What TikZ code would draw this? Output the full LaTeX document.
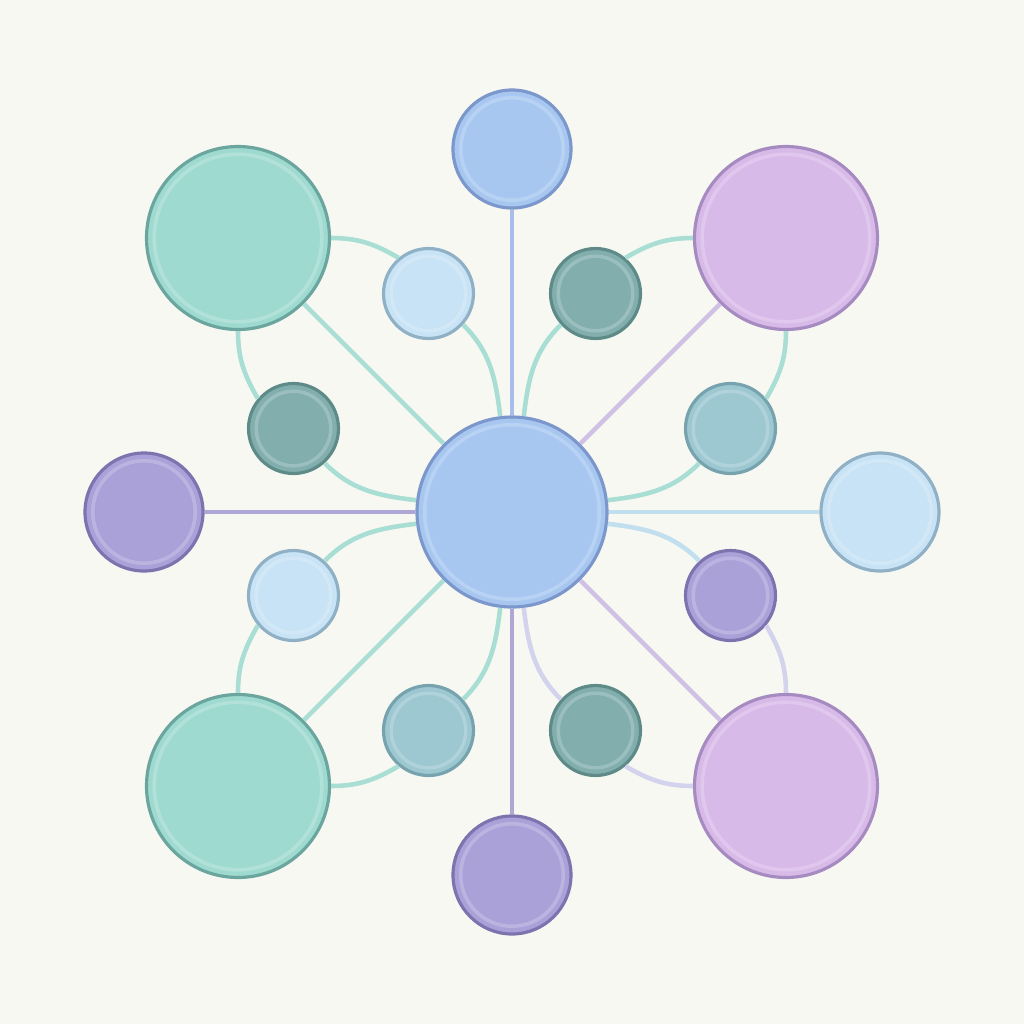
\documentclass[tikz,border=0pt]{standalone}
\usepackage{tikz}
\usetikzlibrary{positioning}

\definecolor{paper}{HTML}{F8F8F3}
\definecolor{blueF}{HTML}{A7C7F0}
\definecolor{blueD}{HTML}{7B97CB}
\definecolor{purpF}{HTML}{ABA1D9}
\definecolor{purpD}{HTML}{7E73AE}
\definecolor{skyF}{HTML}{C7E3F5}
\definecolor{skyD}{HTML}{8FB0C5}
\definecolor{tealF}{HTML}{9FDAD1}
\definecolor{tealD}{HTML}{6AA59E}
\definecolor{lilaF}{HTML}{D8BAE9}
\definecolor{lilaD}{HTML}{A68BC1}
\definecolor{deepF}{HTML}{82AEAE}
\definecolor{deepD}{HTML}{5E8B88}
\definecolor{greyF}{HTML}{9DC7D1}
\definecolor{greyD}{HTML}{77A3AE}
\definecolor{tealL}{HTML}{A8DED3}
\definecolor{lilaL}{HTML}{CFC0E5}
\definecolor{blueL}{HTML}{A9BDEA}
\definecolor{purpL}{HTML}{B0A6D6}
\definecolor{skyL}{HTML}{C2DFF0}
\definecolor{lavL}{HTML}{D4D3EE}

\tikzset{
    bubble/.style n args = {2}{circle, inner sep = 0pt, minimum size = #1cm,
        fill = #2F, draw = #2D, line width = 0.9pt,
        path picture = {\draw[white, opacity = 0.2, line width = 1pt]
            (path picture bounding box.center) circle[radius = #1cm/2-2.2pt];}},
    link/.style = {line width = 1.3pt, draw = #1}
}

\begin{document}
\begin{tikzpicture}
    \fill[paper] (-5.12,-5.12) rectangle (5.12,5.12);
    \useasboundingbox (-5.12,-5.12) rectangle (5.12,5.12);

    \foreach \name/\pos/\size/\col in {
        c/{0,0}/1.9/blue,
        top/{0,3.63}/1.18/blue, bot/{0,-3.63}/1.18/purp,
        lft/{-3.68,0}/1.18/purp, rgt/{3.68,0}/1.18/sky,
        tl/{-2.74,2.74}/1.83/teal, tr/{2.74,2.74}/1.83/lila,
        bl/{-2.74,-2.74}/1.83/teal, br/{2.74,-2.74}/1.83/lila,
        s1/{-0.835,2.185}/0.9/sky, s2/{0.835,2.185}/0.9/deep,
        s3/{-2.185,0.835}/0.9/deep, s4/{2.185,0.835}/0.9/grey,
        s5/{-2.185,-0.835}/0.9/sky, s6/{2.185,-0.835}/0.9/purp,
        s7/{-0.835,-2.185}/0.9/grey, s8/{0.835,-2.185}/0.9/deep}
    {
        \node[bubble = {\size}{\col}] (\name) at (\pos) {};
    }

    \draw[link = blueL] (c) -- (top);
    \draw[link = purpL] (c) -- (bot);
    \draw[link = purpL] (c) -- (lft);
    \draw[link = skyL] (c) -- (rgt);
    \draw[link = tealL] (c) -- (tl);
    \draw[link = tealL] (c) -- (bl);
    \draw[link = lilaL] (c) -- (tr);
    \draw[link = lilaL] (c) -- (br);

    \draw[link = tealL] (tl) to[out=0,in=150] (s1.130);
    \draw[link = tealL] (s1.-42) to[out=-45,in=97] (c);
    \draw[link = tealL] (tl) to[out=-90,in=120] (s3.140);
    \draw[link = tealL] (s3.-48) to[out=-45,in=173] (c);
    \draw[link = tealL] (tr) to[out=180,in=30] (s2.50);
    \draw[link = tealL] (s2.-138) to[out=-135,in=83] (c);
    \draw[link = tealL] (tr) to[out=-90,in=60] (s4.40);
    \draw[link = tealL] (s4.-132) to[out=-135,in=7] (c);
    \draw[link = tealL] (bl) to[out=0,in=-150] (s7.-130);
    \draw[link = tealL] (s7.42) to[out=45,in=-97] (c);
    \draw[link = tealL] (bl) to[out=90,in=-120] (s5.-140);
    \draw[link = tealL] (s5.48) to[out=45,in=-173] (c);
    \draw[link = lavL] (br) to[out=180,in=-30] (s8.-50);
    \draw[link = lavL] (s8.138) to[out=135,in=-83] (c);
    \draw[link = lavL] (br) to[out=90,in=-60] (s6.-40);
    \draw[link = skyL] (s6.132) to[out=135,in=-7] (c);
\end{tikzpicture}
\end{document}
